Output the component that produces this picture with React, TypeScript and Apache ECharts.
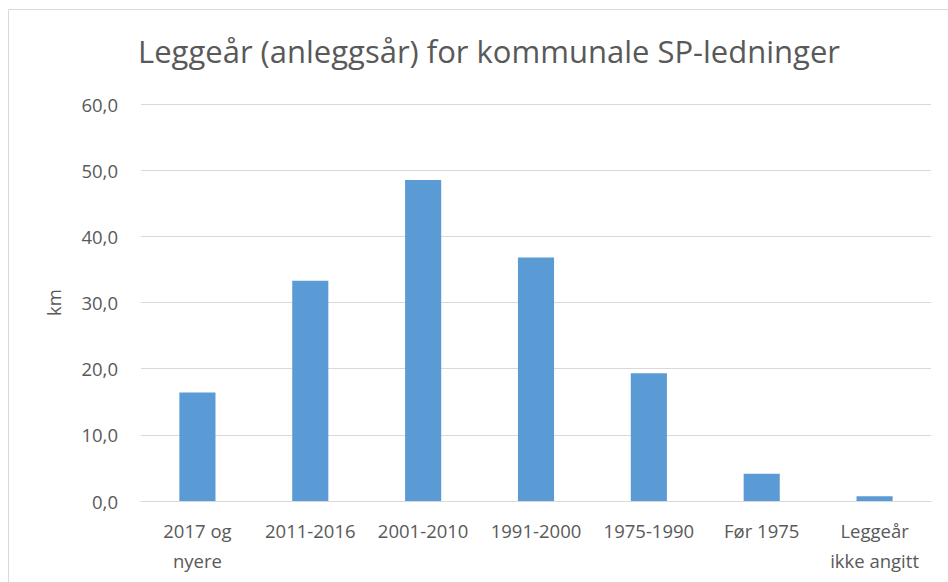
import React, { useEffect, useRef } from "react";
import * as echarts from "echarts";

const categories = ["2017 og\nnyere", "2011-2016", "2001-2010", "1991-2000", "1975-1990", "Før 1975", "Leggeår\nikke angitt"];
const values = [16.4, 33.3, 48.5, 36.8, 19.3, 4.1, 0.7];
const yMin = 0;
const yMax = 60;
const yInterval = 10;
const titleText = "Leggeår (anleggsår) for kommunale SP-ledninger";
const yName = "km";

export default function App() {
  const ref = useRef<HTMLDivElement>(null);
  useEffect(() => {
    const chart = echarts.init(ref.current!, undefined, { renderer: "svg" });
    chart.setOption({
      animation: false,
      backgroundColor: "#ffffff",
      title: {
        text: titleText,
        left: 484,
        textAlign: "center",
        top: 30,
        textStyle: { fontFamily: "Open Sans", fontSize: 31, fontWeight: "normal", color: "#595959" },
      },
      graphic: [
        {
          type: "rect",
          shape: { x: 8.5, y: 9.5, width: 1000, height: 1000 },
          style: { fill: "none", stroke: "#d9d9d9", lineWidth: 1 },
          silent: true,
        },
      ],
      grid: { left: 141, right: 17, top: 104, bottom: 81, containLabel: false },
      xAxis: {
        type: "category",
        data: categories,
        axisLine: { show: true, lineStyle: { color: "#d9d9d9", width: 1 } },
        axisTick: { show: false },
        axisLabel: {
          color: "#595959",
          fontFamily: "Open Sans",
          fontSize: 18.5,
          lineHeight: 30,
          margin: 14,
          interval: 0,
        },
      },
      yAxis: {
        type: "value",
        min: yMin,
        max: yMax,
        interval: yInterval,
        name: yName,
        nameLocation: "middle",
        nameGap: 78,
        nameRotate: 90,
        nameTextStyle: { color: "#595959", fontFamily: "Open Sans", fontSize: 18.5 },
        axisLine: { show: false },
        axisTick: { show: false },
        splitLine: { lineStyle: { color: "#d9d9d9", width: 1 } },
        axisLabel: {
          color: "#595959",
          fontFamily: "Open Sans",
          fontSize: 18.5,
          margin: 23,
          formatter: (v: number) => v.toFixed(1).replace(".", ","),
        },
      },
      series: [
        {
          type: "bar",
          data: values,
          barWidth: "32%",
          itemStyle: { color: "#5b9bd5" },
        },
      ],
    });
    return () => chart.dispose();
  }, []);
  return <div ref={ref} style={{ position: "absolute", left: 0, top: 0, width: 948, height: 582 }} />;
}
